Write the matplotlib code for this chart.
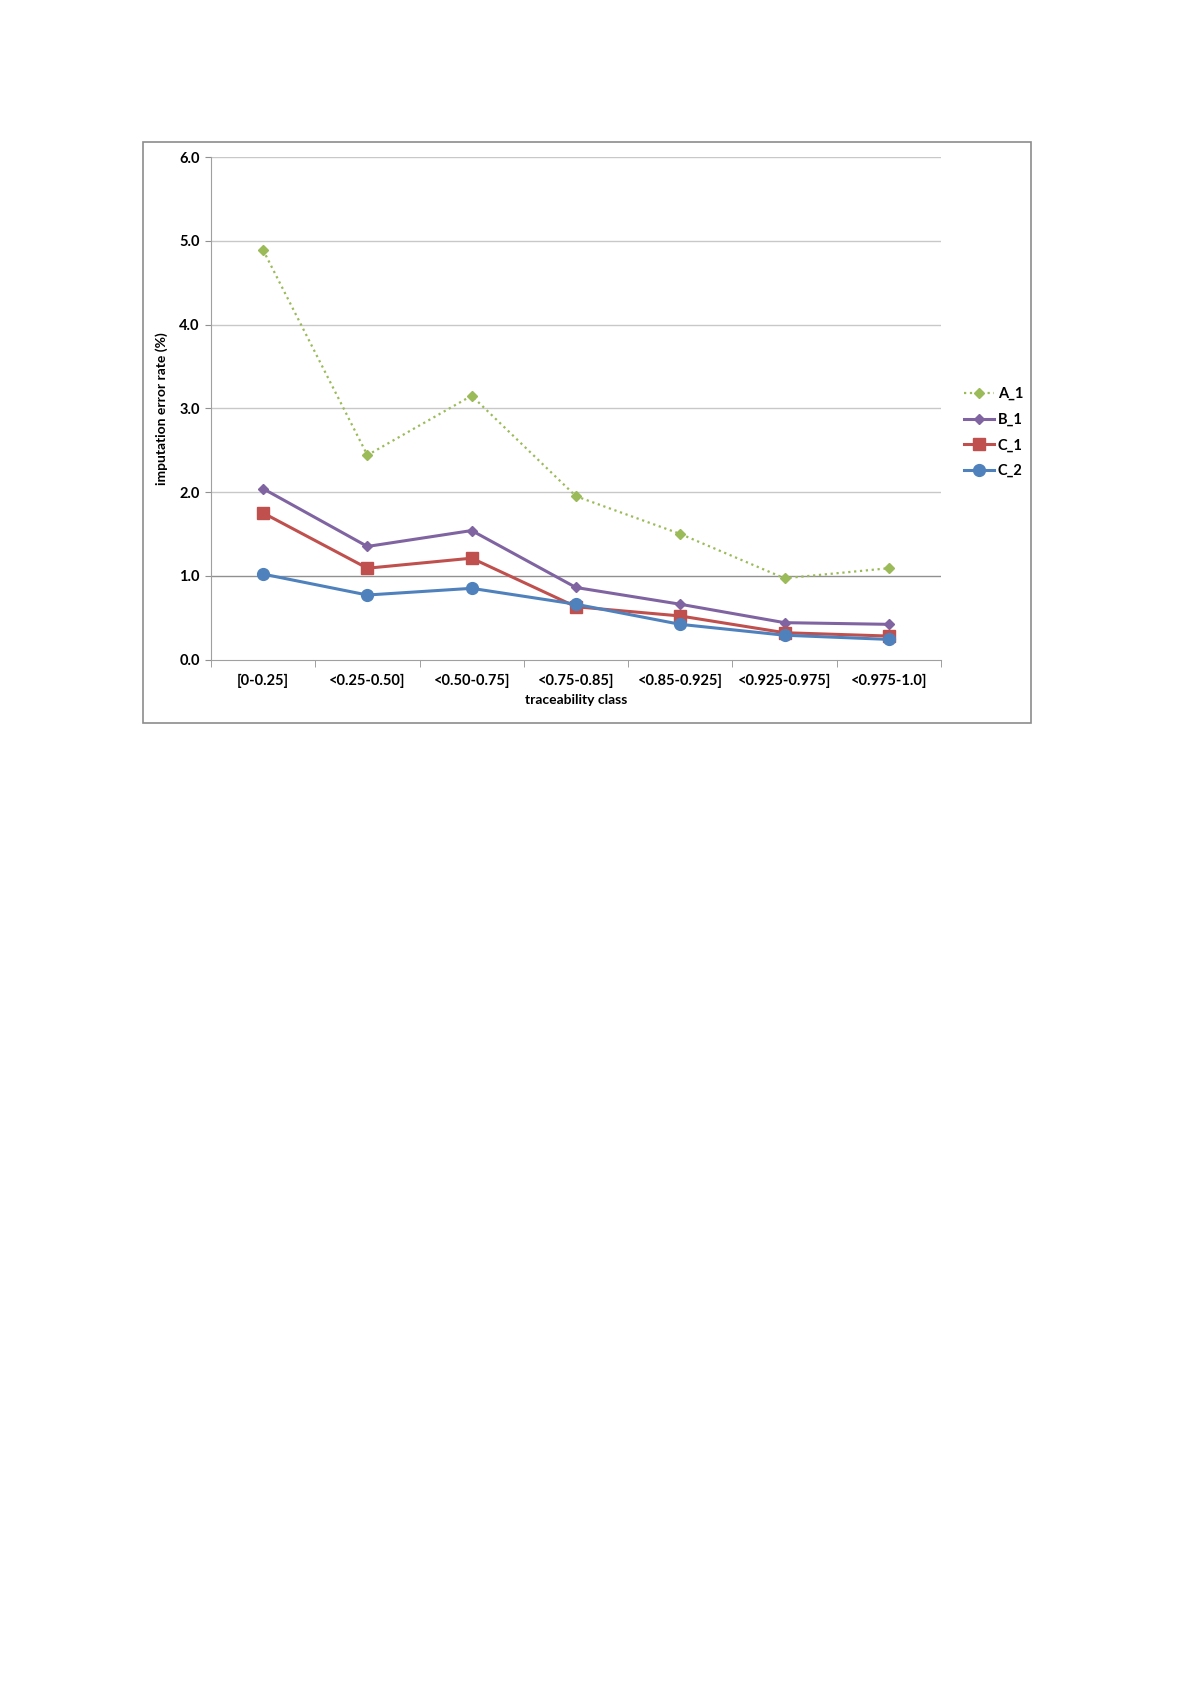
import matplotlib
matplotlib.use('Agg')
import matplotlib.pyplot as plt
from matplotlib.patches import Rectangle


### Data #######################################################################
classes = ['[0-0.25]', '<0.25-0.50]', '<0.50-0.75]', '<0.75-0.85]',
           '<0.85-0.925]', '<0.925-0.975]', '<0.975-1.0]']
a_1 = [4.89, 2.44, 3.15, 1.95, 1.50, 0.97, 1.09]
b_1 = [2.04, 1.35, 1.54, 0.86, 0.66, 0.44, 0.42]
c_1 = [1.75, 1.09, 1.21, 0.63, 0.52, 0.32, 0.28]
c_2 = [1.02, 0.77, 0.85, 0.66, 0.42, 0.29, 0.24]
y_ticks = [0.0, 1.0, 2.0, 3.0, 4.0, 5.0, 6.0]
################################################################################

plt.rcParams['font.family'] = ['Lato', 'DejaVu Sans']
plt.rcParams['font.weight'] = 'bold'

fig = plt.figure(figsize=(12, 16.98), dpi=100)
ax = fig.add_axes([0.1758, 0.6116, 0.6083, 0.2959])

x = list(range(len(classes)))

# grid lines (Excel style, 1.0 line comes out darker in the original)
for v in y_ticks[1:]:
    ax.axhline(v, color='#909090' if v == 1.0 else '#c8c8c8', linewidth=1.0, zorder=0)

ax.plot(x, a_1, color='#9bbb59', linestyle=':', linewidth=1.6, marker='D',
        markersize=5.5, label='A_1', zorder=3)
ax.plot(x, b_1, color='#8064a2', linewidth=2.2, marker='D',
        markersize=5.5, label='B_1', zorder=4)
ax.plot(x, c_1, color='#c0504d', linewidth=2.2, marker='s',
        markersize=8, label='C_1', zorder=5)
ax.plot(x, c_2, color='#4f81bd', linewidth=2.2, marker='o',
        markersize=8.5, label='C_2', zorder=6)

ax.set_xlim(-0.5, len(classes) - 0.5)
ax.set_ylim(0, 6)
ax.set_yticks(y_ticks)
ax.set_yticklabels(['%.1f' % v for v in y_ticks], fontsize=10.5, fontweight='bold')
ax.set_xticks(x)
ax.set_xticklabels(classes, fontsize=10.5, fontweight='bold')
ax.set_xticks([i - 0.5 for i in range(len(classes) + 1)], minor=True)
ax.tick_params(axis='x', which='major', length=0, pad=10)
ax.tick_params(axis='x', which='minor', length=5, color='#909090', direction='out')
ax.tick_params(axis='y', length=4, color='#909090', pad=4)

for s in ['top', 'right']:
    ax.spines[s].set_visible(False)
ax.spines['left'].set_color('#a0a0a0')
ax.spines['bottom'].set_color('#a0a0a0')

ax.set_ylabel('imputation error rate (%)', fontsize=10, fontweight='bold', labelpad=8)
ax.set_xlabel('traceability class', fontsize=10, fontweight='bold', labelpad=5)

fig.legend(loc='center left', bbox_to_anchor=(0.792, 0.7452), frameon=False,
           fontsize=10.5, handlelength=2.1, handletextpad=0.25, labelspacing=0.8)

# outer chart frame
fig.patches.append(Rectangle((143 / 1200, 1 - 723 / 1698), 888 / 1200, 581 / 1698,
                             transform=fig.transFigure, fill=False,
                             edgecolor='#8c8c8c', linewidth=1.2))

fig.savefig('out.png', dpi=100, facecolor='white')
